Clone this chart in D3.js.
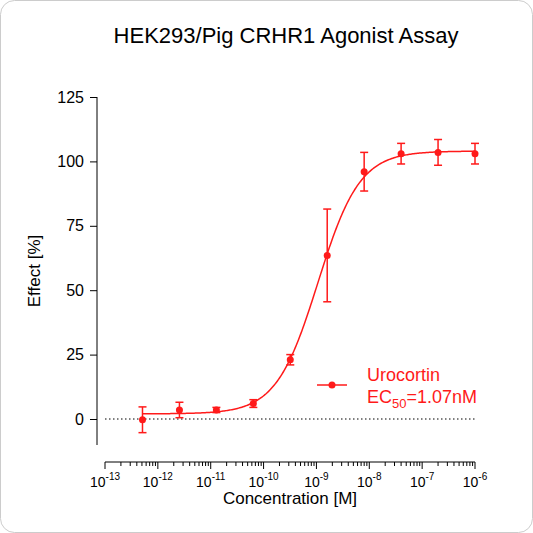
<!DOCTYPE html><html><head><meta charset="utf-8">
<script src="https://cdn.jsdelivr.net/npm/d3@7"></script>
<style>body{margin:0;background:#fff}svg{font-family:Arial,"Liberation Sans",sans-serif}</style></head><body>
<svg id="c" width="533" height="533"></svg>
<script>
const conc=[5.12e-13,2.56e-12,1.28e-11,6.4e-11,3.2e-10,1.6e-9,8e-9,4e-8,2e-7,1e-6];
const effect=[-0.3,3.5,3.5,6,23,63.5,96,103,103.5,103];
const errs=[5,3,1,1.5,2,18,7.5,4,5,4];
const fit={bottom:2,top:104,ec50:1.07e-9,hill:1.1};
const yTicks=[0,25,50,75,100,125];
const xExps=[-13,-12,-11,-10,-9,-8,-7,-6];
const red="#ff1a1a";
const svg=d3.select("#c");
svg.append("rect").attr("x",0.5).attr("y",0.5).attr("width",532).attr("height",532).attr("rx",14).attr("fill","#fff").attr("stroke","#ccc");
const x=d3.scaleLog().domain([1e-13,1e-6]).range([105,475]);
const y=d3.scaleLinear().domain([0,125]).range([419,97]);
svg.append("text").attr("x",286).attr("y",43).attr("text-anchor","middle").attr("font-size",22).text("HEK293/Pig CRHR1 Agonist Assay");
const ya=svg.append("g").attr("transform","translate(97,0)").call(d3.axisLeft(y).tickValues(yTicks).tickSize(7).tickPadding(6));
ya.select(".domain").attr("d","M0,97V445");
ya.selectAll("text").attr("font-size",16).attr("fill","#000");
svg.append("text").attr("transform","translate(40,271) rotate(-90)").attr("text-anchor","middle").attr("font-size",17).text("Effect  [%]");
const xg=svg.append("g").attr("transform","translate(0,462)");
xg.append("line").attr("x1",105).attr("x2",475).attr("stroke","#000");
const minors=[];for(let e=-13;e<-6;e++)for(let k=2;k<10;k++)minors.push(k*Math.pow(10,e));
xg.selectAll(".mi").data(minors).join("line").attr("x1",d=>x(d)).attr("x2",d=>x(d)).attr("y1",0).attr("y2",4).attr("stroke","#000");
xg.selectAll(".ma").data(xExps).join("line").attr("x1",d=>x(Math.pow(10,d))).attr("x2",d=>x(Math.pow(10,d))).attr("y1",0).attr("y2",7).attr("stroke","#000");
const tl=xg.selectAll(".tl").data(xExps).join("text").attr("x",d=>x(Math.pow(10,d))).attr("y",25).attr("text-anchor","middle").attr("font-size",14);
tl.append("tspan").text("10");tl.append("tspan").attr("dy",-7).attr("font-size",10).text(d=>"-"+(-d));
svg.append("text").attr("x",290).attr("y",504).attr("text-anchor","middle").attr("font-size",17).text("Concentration [M]");
svg.append("line").attr("x1",105).attr("x2",475).attr("y1",y(0)).attr("y2",y(0)).attr("stroke","#000").attr("stroke-dasharray","1.5,2.5");
const cx=d3.range(0,301).map(i=>Math.pow(10,-12.3+i*(6.3/300)));
const f=c=>fit.bottom+(fit.top-fit.bottom)/(1+Math.pow(fit.ec50/c,fit.hill));
svg.append("path").datum(cx).attr("d",d3.line().x(d=>x(d)).y(d=>y(f(d)))).attr("fill","none").attr("stroke",red).attr("stroke-width",1.5);
const g=svg.append("g").attr("stroke",red).attr("stroke-width",1.5);
conc.forEach((c,i)=>{const X=x(c),t=y(effect[i]+errs[i]),b=y(effect[i]-errs[i]);
g.append("line").attr("x1",X).attr("x2",X).attr("y1",t).attr("y2",b);
g.append("line").attr("x1",X-4).attr("x2",X+4).attr("y1",t).attr("y2",t);
g.append("line").attr("x1",X-4).attr("x2",X+4).attr("y1",b).attr("y2",b);});
svg.selectAll(".pt").data(conc).join("circle").attr("cx",d=>x(d)).attr("cy",(d,i)=>y(effect[i])).attr("r",3.5).attr("fill",red);
svg.append("line").attr("x1",317).attr("x2",347).attr("y1",385).attr("y2",385).attr("stroke",red).attr("stroke-width",1.5);
svg.append("circle").attr("cx",332).attr("cy",385).attr("r",3.5).attr("fill",red);
svg.append("text").attr("x",367).attr("y",381).attr("font-size",18).attr("fill",red).text("Urocortin");
const e=svg.append("text").attr("x",367).attr("y",403).attr("font-size",18).attr("fill",red);
e.append("tspan").text("EC");e.append("tspan").attr("dy",5).attr("font-size",13).text("50");e.append("tspan").attr("dy",-5).text("=1.07nM");
</script></body></html>
